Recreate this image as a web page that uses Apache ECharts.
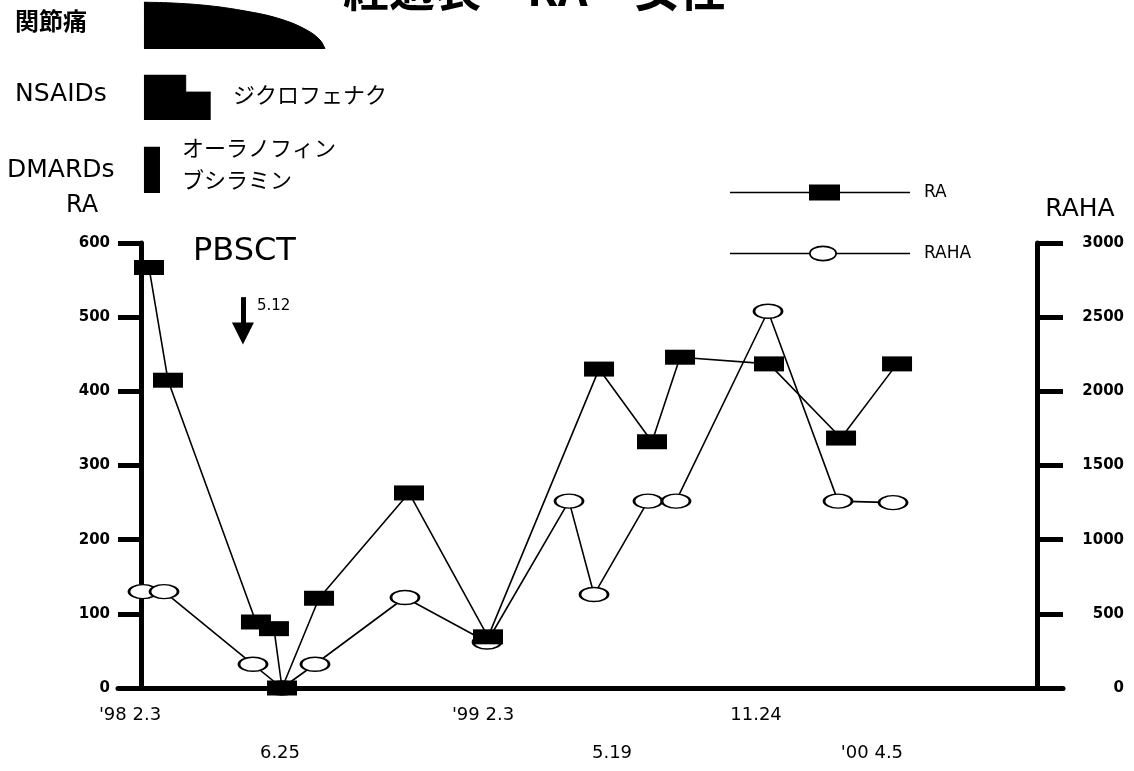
<!DOCTYPE html>
<html><head><meta charset="utf-8">
<script src="https://cdn.jsdelivr.net/npm/echarts@6/dist/echarts.min.js"></script>
<style>html,body{margin:0;padding:0;background:#fff}#c{width:1134px;height:771px}</style>
</head><body><div id="c"></div>
<script>
// ---- data (x in normalized timeline units: 0 = left RA axis, 100 = right RAHA axis) ----
const raX   = [0.89, 3.01, 12.83, 14.84, 15.74, 19.87, 29.91, 38.73, 51.12, 57.03, 60.16, 70.09, 78.13, 84.38];
const raY   = [567, 415, 89, 80, 0, 121, 263, 69, 430, 332, 446, 437, 337, 437];
const rahaX = [0.22, 2.57, 12.5, 15.74, 19.42, 29.46, 38.62, 47.77, 50.56, 56.58, 59.71, 69.98, 77.79, 83.93];
const rahaY = [650, 650, 160, 0, 160, 610, 310, 1260, 630, 1260, 1260, 2540, 1260, 1250];
const dateRow1Pos = [-1.23, 38.17, 68.64];
const dateRow1Txt = ["'98 2.3", "'99 2.3", "11.24"];
const dateRow2Pos = [15.51, 52.57, 81.58];
const dateRow2Txt = ["6.25", "5.19", "'00 4.5"];
const raTicks = [0, 100, 200, 300, 400, 500, 600];
const rahaTicks = [0, 500, 1000, 1500, 2000, 2500, 3000];
// symptom / treatment timeline
const painX = [0.33, 6.58, 12.17, 15.85, 18.53, 19.98, 20.54];
const painY = [100, 94, 79, 62, 40, 19, 0];
const nsaidX = [0.33, 4.99, 7.78];
const nsaidY = [100, 62, 62];
const dmardX = [0.33, 2.12];
const dmardY = [100, 100];
const pbsctX = 11.38, pbsctFrom = 527, pbsctTo = 478;

const zip = (a, b) => a.map((v, i) => [v, b[i]]);
const X_MIN = -23 / 8.96, X_MAX = 100 + 26 / 8.96;
const latin = "'DejaVu Sans', sans-serif";
const jp = "'Noto Sans CJK JP', sans-serif";

const chart = echarts.init(document.getElementById('c'), null, {renderer: 'canvas'});
const fmt = (pos, txt) => v => { let bi = 0, bd = 1e9; pos.forEach((p, i) => { const d = Math.abs(p - v); if (d < bd) { bd = d; bi = i; } }); return txt[bi]; };
const hiddenX = i => ({type: 'value', gridIndex: i, min: X_MIN, max: X_MAX, show: false});
const hiddenY = i => ({type: 'value', gridIndex: i, min: 0, max: 100, show: false});

const raIcon = 'path://M0,7.2h80v1.6h-80z M79,0h31v16h-31z M109,7.2h71v1.6h-71z';
const rahaIcon = 'path://M0,7.2h79.5v1.6h-79.5z M106.5,7.2h73.5v1.6h-73.5z M79,8A14,8 0 1,1 107,8A14,8 0 1,1 79,8Z M80.8,8A12.2,6.2 0 1,0 105.2,8A12.2,6.2 0 1,0 80.8,8Z';

chart.setOption({
  animation: false,
  backgroundColor: '#fff',
  title: {text: '経過表　RA　女性', left: 338, top: -39, textStyle: {fontFamily: jp, fontSize: 46, fontWeight: 'bold', color: '#000'}},
  legend: {
    orient: 'vertical', left: 725, top: 179, itemWidth: 180, itemHeight: 16, itemGap: 44,
    textStyle: {fontFamily: latin, fontSize: 17, color: '#000', padding: [0, 0, 0, 9]},
    data: [
      {name: 'RA', icon: raIcon, itemStyle: {color: '#000', borderWidth: 0}},
      {name: 'RAHA', icon: rahaIcon, itemStyle: {color: '#000', borderWidth: 0}}
    ]
  },
  grid: [
    {left: 118, right: 71, top: 243, bottom: 83},
    {left: 118, right: 71, top: 2, height: 47},
    {left: 118, right: 71, top: 75, height: 45},
    {left: 118, right: 71, top: 147, height: 46}
  ],
  xAxis: [
    {type: 'value', gridIndex: 0, position: 'bottom', min: X_MIN, max: X_MAX, splitLine: {show: false},
     axisLine: {show: true, onZero: false, lineStyle: {color: '#000', width: 5}}, axisTick: {show: false},
     axisLabel: {customValues: dateRow1Pos, formatter: fmt(dateRow1Pos, dateRow1Txt), margin: 18, color: '#000', fontFamily: latin, fontSize: 18}},
    {type: 'value', gridIndex: 0, position: 'bottom', min: X_MIN, max: X_MAX, splitLine: {show: false},
     axisLine: {show: false, onZero: false}, axisTick: {show: false},
     axisLabel: {customValues: dateRow2Pos, formatter: fmt(dateRow2Pos, dateRow2Txt), margin: 56, color: '#000', fontFamily: latin, fontSize: 18}},
    hiddenX(1), hiddenX(2), hiddenX(3)
  ],
  yAxis: [
    {type: 'value', gridIndex: 0, position: 'left', offset: -23, min: 0, max: 600, interval: 100, splitLine: {show: false},
     name: 'RA', nameLocation: 'end', nameGap: 25, nameTextStyle: {fontFamily: latin, fontSize: 24, color: '#000', align: 'center', padding: [0, 118, 0, 0]},
     axisLine: {show: true, onZero: false, lineStyle: {color: '#000', width: 5}},
     axisTick: {show: true, length: 23, lineStyle: {color: '#000', width: 5}},
     axisLabel: {margin: 31, color: '#000', fontFamily: latin, fontSize: 15, fontWeight: 'bold', customValues: raTicks}},
    {type: 'value', gridIndex: 0, position: 'right', offset: -26, min: 0, max: 3000, interval: 500, splitLine: {show: false},
     name: 'RAHA', nameLocation: 'end', nameGap: 21, nameTextStyle: {fontFamily: latin, fontSize: 25, color: '#000', align: 'center', padding: [0, 0, 0, 86]},
     axisLine: {show: true, onZero: false, lineStyle: {color: '#000', width: 5}},
     axisTick: {show: true, length: 26, lineStyle: {color: '#000', width: 5}},
     axisLabel: {margin: 87, align: 'right', color: '#000', fontFamily: latin, fontSize: 15, fontWeight: 'bold', customValues: rahaTicks, formatter: v => String(v)}},
    hiddenY(1), hiddenY(2), hiddenY(3)
  ],
  series: [
    {name: 'RAHA', type: 'line', xAxisIndex: 0, yAxisIndex: 1, data: zip(rahaX, rahaY), z: 3,
     symbol: 'path://M0,7A14,7 0 1,1 28,7A14,7 0 1,1 0,7Z', symbolSize: [28, 14], symbolKeepAspect: false,
     itemStyle: {color: '#fff', borderColor: '#000', borderWidth: 2}, lineStyle: {color: '#000', width: 1.6}},
    {name: 'RA', type: 'line', xAxisIndex: 0, yAxisIndex: 0, data: zip(raX, raY), z: 4,
     symbol: 'rect', symbolSize: [30, 15], itemStyle: {color: '#000'}, lineStyle: {color: '#000', width: 1.6},
     markLine: {silent: true, symbol: ['none', 'triangle'], symbolSize: 22, label: {show: false},
       lineStyle: {color: '#000', width: 5, type: 'solid'},
       data: [[{coord: [pbsctX, pbsctFrom]}, {coord: [pbsctX, pbsctTo]}]]}},
    {name: '関節痛', type: 'line', xAxisIndex: 2, yAxisIndex: 2, data: zip(painX, painY), smooth: 0.4, symbol: 'none',
     lineStyle: {color: '#000', width: 1}, areaStyle: {color: '#000', opacity: 1}},
    {name: 'NSAIDs', type: 'line', xAxisIndex: 3, yAxisIndex: 3, data: zip(nsaidX, nsaidY), step: 'end', symbol: 'none',
     lineStyle: {color: '#000', width: 1}, areaStyle: {color: '#000', opacity: 1}},
    {name: 'DMARDs', type: 'line', xAxisIndex: 4, yAxisIndex: 4, data: zip(dmardX, dmardY), symbol: 'none',
     lineStyle: {color: '#000', width: 1}, areaStyle: {color: '#000', opacity: 1}}
  ],
  graphic: [
    {type: 'text', left: 15, top: 9, style: {text: '関節痛', font: 'bold 24px ' + jp, fill: '#000'}},
    {type: 'text', left: 15, top: 82, style: {text: 'NSAIDs', font: '25px ' + latin, fill: '#000'}},
    {type: 'text', left: 233, top: 84, style: {text: 'ジクロフェナク', font: '22px ' + jp, fill: '#000'}},
    {type: 'text', left: 7, top: 158, style: {text: 'DMARDs', font: '25px ' + latin, fill: '#000'}},
    {type: 'text', left: 182, top: 137, style: {text: 'オーラノフィン', font: '22px ' + jp, fill: '#000'}},
    {type: 'text', left: 182, top: 169, style: {text: 'ブシラミン', font: '22px ' + jp, fill: '#000'}},
    {type: 'text', left: 193, top: 236, style: {text: 'PBSCT', font: '32px ' + latin, fill: '#000'}},
    {type: 'text', left: 257, top: 299, style: {text: '5.12', font: '15px ' + latin, fill: '#000'}}
  ]
});
</script></body></html>
